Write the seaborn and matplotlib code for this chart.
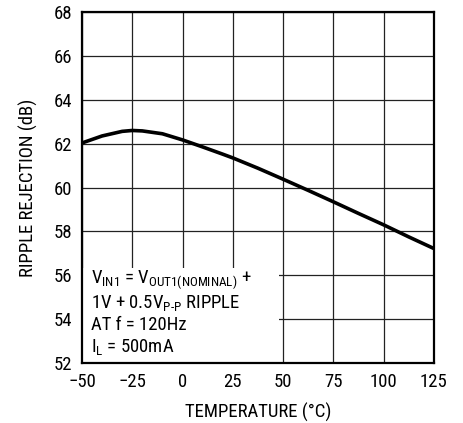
import matplotlib
matplotlib.use("Agg")
import matplotlib.pyplot as plt
import seaborn as sns
import pandas as pd
from matplotlib.patches import Rectangle

# values
temperature = [-50, -40, -30, -25, -20, -10, 0, 10, 20, 25, 37.5, 50, 62.5, 75, 87.5, 100, 112.5, 125]
rejection = [62.03, 62.35, 62.56, 62.60, 62.58, 62.45, 62.17, 61.85, 61.52, 61.35,
             60.88, 60.38, 59.87, 59.35, 58.82, 58.30, 57.75, 57.22]

x_ticks = [-50, -25, 0, 25, 50, 75, 100, 125]
x_labels = ["\u221250", "\u221225", "0", "25", "50", "75", "100", "125"]
y_ticks = [52, 54, 56, 58, 60, 62, 64, 66, 68]

df = pd.DataFrame({"temp": temperature, "rr": rejection})

sns.set_style("white")
plt.rcParams['font.family'] = ['Roboto Condensed', 'Liberation Sans', 'DejaVu Sans']
plt.rcParams['mathtext.fontset'] = 'custom'
plt.rcParams['mathtext.rm'] = 'Roboto Condensed'
plt.rcParams['text.color'] = 'black'
plt.rcParams['axes.labelcolor'] = 'black'

fig = plt.figure(figsize=(4.64, 4.23), dpi=100)
ax = fig.add_axes([0.1767, 0.1418, 0.7583, 0.8298])

ax.set_xlim(-50, 125)
ax.set_ylim(52, 68)
ax.set_xticks(x_ticks)
ax.set_xticklabels(x_labels)
ax.set_yticks(y_ticks)
ax.grid(True, color="#222222", linewidth=0.9, zorder=0)
ax.set_axisbelow(True)

# white panel behind the condition text
ax.add_patch(Rectangle((-50, 52), 97.9, 4.33, facecolor="white", edgecolor="none", zorder=1))

sns.lineplot(data=df, x="temp", y="rr", ax=ax, color="black", linewidth=2.6, zorder=3)

for s in ax.spines.values():
    s.set_linewidth(1.6)
    s.set_color("black")

ax.tick_params(axis="both", length=0, labelsize=13.5, colors="black")
ax.tick_params(axis="x", pad=7)
ax.tick_params(axis="y", pad=7)

ax.set_xlabel("TEMPERATURE (\u00b0C)", fontsize=13.5, labelpad=9)
ax.set_ylabel("RIPPLE REJECTION (dB)", fontsize=13.5, labelpad=11)

fs = 13.5
ax.text(-45.5, 55.8, r"$\mathregular{V_{IN1}}$ = $\mathregular{V_{OUT1(NOMINAL)}}$ +",
        fontsize=fs, va="center", zorder=4)
ax.text(-45.5, 54.75, r"1V + 0.5$\mathregular{V_{P\text{-}P}}$ RIPPLE",
        fontsize=fs, va="center", zorder=4)
ax.text(-45.5, 53.72, "AT f = 120Hz", fontsize=fs, va="center", zorder=4)
ax.text(-45.5, 52.75, r"$\mathregular{I_L}$ = 500mA", fontsize=fs, va="center", zorder=4)

fig.savefig("out.png", dpi=100)
